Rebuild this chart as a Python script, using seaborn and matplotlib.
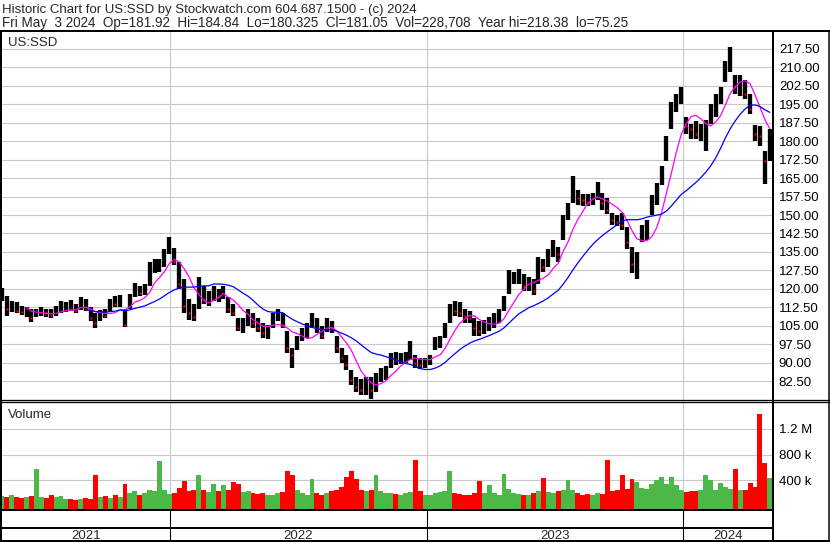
import numpy as np
import pandas as pd
import matplotlib
matplotlib.use("Agg")
import matplotlib.pyplot as plt
import matplotlib.dates as mdates
from matplotlib.lines import Line2D
import seaborn as sns

# ---------------- data (weekly samples) ----------------
week_start = "2021-05-07"
week_end = "2024-05-03"

high = [120.2, 117, 115, 114.5, 113, 112.5, 112, 112, 112.5, 112,
        112, 113, 115, 114.5, 115.5, 114, 116.5, 116, 112.5, 110,
        111.5, 112, 116, 117, 117.5, 112, 118, 122.5, 121, 122,
        131, 132, 132, 136, 141, 136.5, 131, 124, 116, 114,
        125, 121, 119, 121, 120, 121, 116.5, 114, 108, 108,
        112, 110, 108, 106, 105.5, 110, 112, 110, 103, 96,
        101, 104, 106, 110, 108, 105, 108, 107, 101, 96,
        93, 87, 84, 83.5, 84, 84, 86, 88, 88.5, 94,
        94.5, 94, 94.5, 99, 93, 92, 92, 93, 100.5, 101,
        106, 114, 115, 114.5, 112, 111, 108, 107, 107.5, 108.5,
        110, 112, 117, 127.5, 127, 128, 126, 125, 124, 133,
        132, 136, 140, 137, 150, 155, 166, 160, 158.5, 158.5,
        159, 163.5, 159, 157, 151, 150, 151, 145, 137, 135,
        146, 148, 158, 163, 170, 182, 196, 199, 202, 190,
        187, 188, 187, 188.5, 195, 199, 202, 212.5, 218.38, 207,
        207, 205, 199, 186.5, 186, 176, 184.84]

low = [115, 109, 110.5, 110, 109.5, 108.5, 106.5, 108.5, 109, 108.5,
       108, 109, 110, 110.5, 111, 110, 111.5, 111, 107, 104.2,
       107, 108, 110.5, 112.5, 112.5, 104.5, 112, 116.5, 117, 117.5,
       121, 126.5, 127, 129, 134, 129.5, 120, 110, 107.5, 107,
       112, 114, 113, 115, 114.5, 116, 110, 109, 103, 102,
       105, 104, 102.5, 100, 99.5, 104, 107, 104, 94, 88,
       95, 99, 100, 104, 102, 99.5, 102.5, 102, 94, 90,
       87, 81, 78, 77, 77, 75.25, 78, 82, 83, 88,
       89, 89.5, 90, 91, 88, 87.5, 88, 89, 95, 96,
       100, 106, 109, 108.5, 106, 106, 101, 101, 101.5, 103,
       104, 106, 111, 118, 122, 122, 119, 119, 117.5, 122,
       127, 129, 133, 131, 140, 148, 155, 154, 153.5, 153.5,
       154, 156, 152, 150.5, 146, 145.5, 144, 136, 126.5, 124,
       139, 140, 150, 154, 162, 172, 185, 192, 195, 183,
       181, 181, 180, 176, 187, 190, 195, 204, 208, 199,
       198.5, 197, 191, 180, 178, 162.7, 172]

close = [116.5, 112, 113, 111, 110.5, 111, 108, 110, 111, 110,
         109.5, 111.5, 112, 113, 112, 111, 115, 112, 108, 106,
         110, 109, 115, 114, 115.5, 105.5, 117, 121, 118.5, 121,
         128, 129, 130, 135, 138.5, 131, 122, 113, 110, 108.5,
         122, 116, 116, 119, 117, 119, 112, 110, 104, 105,
         108, 106, 104, 102, 103, 108, 110, 105, 96, 93,
         99, 102, 104, 107, 104, 101, 106, 104, 96, 92,
         89, 83, 80, 79, 81, 79, 84, 86, 87, 92,
         91, 92, 92.5, 94, 90, 89, 90, 92, 99, 99,
         105, 112, 111, 110, 109, 108, 104, 103, 105, 106,
         108, 110, 115, 124, 124, 125, 121, 122, 119, 130,
         129, 133, 137, 134, 148, 153, 160, 157, 156, 155,
         157, 159, 155, 152, 148, 147, 146, 139, 130, 132,
         144, 146, 156, 160, 167, 180, 193, 197, 199, 186,
         185, 183, 184, 186, 193, 196, 200, 210, 212, 202,
         204, 199, 193, 183, 182, 172, 181.05]

volume_k = [160, 150, 170, 140, 130, 150, 160, 570, 150, 130,
            170, 140, 160, 120, 110, 100, 120, 130, 110, 480,
            150, 160, 130, 180, 140, 340, 200, 230, 180, 210,
            260, 230, 700, 250, 190, 200, 280, 390, 230, 250,
            490, 260, 220, 350, 240, 330, 260, 370, 340, 220,
            230, 200, 190, 210, 180, 170, 200, 220, 540, 480,
            260, 200, 180, 420, 200, 170, 210, 240, 260, 300,
            450, 540, 420, 260, 230, 250, 480, 240, 210, 200,
            190, 180, 200, 220, 720, 230, 180, 170, 200, 220,
            230, 540, 200, 190, 180, 170, 200, 385, 210, 330,
            200, 180, 500, 270, 210, 190, 180, 170, 200, 230,
            440, 220, 200, 230, 250, 410, 260, 200, 180, 190,
            170, 200, 190, 710, 230, 250, 480, 270, 420, 380,
            280, 270, 340, 400, 450, 350, 460, 330, 260, 220,
            240, 230, 260, 480, 410, 260, 360, 300, 270, 570,
            260, 250, 360, 300, 1420, 670, 440]

ma_short_weeks = 6    # ~30 trading days (magenta)
ma_long_weeks = 18    # ~90 trading days (blue)

price_ticks = [82.5, 90.0, 97.5, 105.0, 112.5, 120.0, 127.5, 135.0, 142.5, 150.0,
               157.5, 165.0, 172.5, 180.0, 187.5, 195.0, 202.5, 210.0, 217.5]
price_labels = ["82.50", "90.00", "97.50", "105.00", "112.50", "120.00", "127.50",
                "135.00", "142.50", "150.00", "157.50", "165.00", "172.50", "180.00",
                "187.50", "195.00", "202.50", "210.00", "217.50"]
vol_ticks = [400e3, 800e3, 1200e3]
vol_labels = ["400 k", "800 k", "1.2 M"]
year_starts = ["2022-01-01", "2023-01-01", "2024-01-01"]
year_names = ["2021", "2022", "2023", "2024"]

title1 = "Historic Chart for US:SSD by Stockwatch.com 604.687.1500 - (c) 2024"
title2 = ("Fri May  3 2024  Op=181.92  Hi=184.84  Lo=180.325  Cl=181.05  "
          "Vol=228,708  Year hi=218.38  lo=75.25")

# ---------------- style ----------------
sns.set_style("white")
plt.rcParams["font.family"] = ["Liberation Sans", "DejaVu Sans"]
FS = 9.5

W, H = 830, 543
fig = plt.figure(figsize=(W / 100, H / 100), dpi=100)
fig.patch.set_facecolor("white")


def rect(x0, y0, x1, y1):
    return [x0 / W, 1 - y1 / H, (x1 - x0) / W, (y1 - y0) / H]


def fline(x0, y0, x1, y1, px=1.0, color="black"):
    fig.add_artist(Line2D([x0 / W, x1 / W], [1 - y0 / H, 1 - y1 / H],
                          transform=fig.transFigure, color=color,
                          linewidth=px * 0.72, solid_capstyle="butt", zorder=20))


dates = pd.date_range(week_start, week_end, freq="W-FRI")
xnum = mdates.date2num(dates)
close_s = pd.Series(close)
ma_short = close_s.rolling(ma_short_weeks).mean()
ma_long = close_s.rolling(ma_long_weeks).mean()

ys = [mdates.date2num(pd.Timestamp(d)) for d in year_starts]
ppd = (683.3 - 170.0) / (ys[2] - ys[0])
xlim0 = ys[0] - (170.0 - 2.0) / ppd
xlim1 = ys[2] + (773.0 - 683.3) / ppd

GRID = "#c8c8c8"

# ---------------- price panel ----------------
ax = fig.add_axes(rect(2, 31, 773, 399.5))
ax.set_facecolor("white")
ax.vlines(xnum, low, high, color="black", linewidth=3.1, zorder=3)
down = [i for i in range(1, len(close)) if close[i] < close[i - 1]]
ax.plot(xnum[down], np.array(close)[down], "s", color="red", ms=1.8,
        mec="none", zorder=4)
sns.lineplot(x=xnum, y=ma_short.values, ax=ax, color="#ff00ff", linewidth=0.9,
             zorder=5)
sns.lineplot(x=xnum, y=ma_long.values, ax=ax, color="#0000ff", linewidth=0.9,
             zorder=5)
ax.set_xlim(xlim0, xlim1)
ax.set_ylim(75.06, 224.74)
ax.set_yticks(price_ticks)
ax.set_yticklabels(price_labels)
ax.yaxis.tick_right()
ax.tick_params(axis="y", length=0, pad=4.2, labelsize=FS, colors="black")
ax.set_xticks([])
ax.grid(axis="y", color=GRID, linewidth=0.8)
for d in ys:
    ax.axvline(d, color=GRID, linewidth=0.8, zorder=0)
ax.set_axisbelow(True)
ax.set_xlabel("")
ax.set_ylabel("")
for s in ax.spines.values():
    s.set_visible(False)

# ---------------- volume panel ----------------
axv = fig.add_axes(rect(2, 402.3, 773, 509.5))
vbot, vtop = -48.7e3, 1607e3
vol = np.array(volume_k) * 1e3
colors = ["#4cb848"] + ["#ff0000" if close[i] < close[i - 1] else "#4cb848"
                        for i in range(1, len(close))]
axv.bar(xnum, vol - vbot, bottom=vbot, width=7.0, color=colors, linewidth=0,
        align="center", zorder=3)
axv.set_xlim(xlim0, xlim1)
axv.set_ylim(vbot, vtop)
axv.set_yticks(vol_ticks)
axv.set_yticklabels(vol_labels)
axv.yaxis.tick_right()
axv.tick_params(axis="y", length=0, pad=4.2, labelsize=FS, colors="black")
axv.set_xticks([])
axv.grid(axis="y", color=GRID, linewidth=0.8)
for d in ys:
    axv.axvline(d, color=GRID, linewidth=0.8, zorder=0)
axv.set_axisbelow(True)
for s in axv.spines.values():
    s.set_visible(False)

# ---------------- year axis ----------------
axx = fig.add_axes(rect(2, 510, 773, 541))
axx.set_xlim(xlim0, xlim1)
axx.set_ylim(0, 1)
axx.axis("off")
for d in ys:
    axx.axvline(d, color="black", linewidth=0.8)
bounds = [xlim0] + ys + [xlim1]
for k, name in enumerate(year_names):
    axx.text((bounds[k] + bounds[k + 1]) / 2, 0.16, name, ha="center",
             va="center", fontsize=FS)

# ---------------- texts ----------------
fig.text(2 / W, 1 - 12.5 / H, title1, fontsize=FS, va="baseline")
fig.text(2 / W, 1 - 27.5 / H, title2, fontsize=9.75, va="baseline")
fig.text(8 / W, 1 - 46 / H, "US:SSD", fontsize=FS, va="baseline")
fig.text(8 / W, 1 - 418 / H, "Volume", fontsize=FS, va="baseline")

# ---------------- frame lines ----------------
fline(0, 31, 830, 31, 2)
fline(1, 31, 1, 542, 2)
fline(773, 31, 773, 542, 2)
fline(828.5, 31, 828.5, 542, 1.5)
fline(0, 399.7, 830, 399.7, 1.3)
fline(0, 402.2, 830, 402.2, 1.3)
fline(0, 510, 773, 510, 2)
fline(0, 527.5, 773, 527.5, 2)
fline(0, 541, 830, 541, 2)

fig.savefig("out.png", dpi=100, facecolor="white")
